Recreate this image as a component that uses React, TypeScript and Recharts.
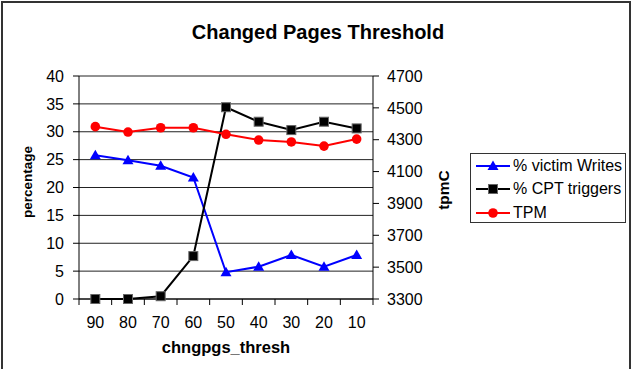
import React from 'react';
import { ComposedChart, Line, XAxis, YAxis, CartesianGrid, Legend, Label } from 'recharts';

const categories = ['90', '80', '70', '60', '50', '40', '30', '20', '10'];
const victimWrites = [25.8, 24.9, 23.9, 21.8, 4.8, 5.8, 7.9, 5.8, 7.9];
const cptTriggers = [0, 0, 0.5, 7.7, 34.4, 31.8, 30.3, 31.8, 30.6];
const tpmValues = [4382, 4348, 4375, 4375, 4334, 4298, 4286, 4260, 4304];
const leftTicks = [0, 5, 10, 15, 20, 25, 30, 35, 40];
const rightTicks = [3300, 3500, 3700, 3900, 4100, 4300, 4500, 4700];
const seriesNames = ['% victim Writes', '% CPT triggers', 'TPM'];

const data = categories.map((c, i) => ({
  cat: c,
  victim: victimWrites[i],
  cpt: cptTriggers[i],
  tpm: tpmValues[i],
}));

const FONT = '"Liberation Sans", Arial, Helvetica, sans-serif';
const BLUE = '#0000FF';
const RED = '#FF0000';
const BLACK = '#000000';
const X_TICK_MARGIN = 18;

const Triangle = ({ cx, cy }: any) => (
  <polygon points={`${cx},${cy - 5.5} ${cx + 5.5},${cy + 4} ${cx - 5.5},${cy + 4}`} fill={BLUE} />
);
const Square = ({ cx, cy }: any) => (
  <rect x={cx - 4.5} y={cy - 4.5} width={9} height={9} fill={BLACK} stroke="#666" strokeWidth={1} />
);
const Circle = ({ cx, cy }: any) => <circle cx={cx} cy={cy} r={4.8} fill={RED} />;

const XTick = (props: any) => {
  const { x, y, payload, index, visibleTicksCount, width } = props;
  const half =
    width && visibleTicksCount
      ? width / visibleTicksCount / 2
      : payload && payload.offset
      ? payload.offset
      : 16.33;
  const axisY = y - X_TICK_MARGIN;
  return (
    <g>
      <line x1={x - half} x2={x - half} y1={axisY} y2={axisY + 6} stroke={BLACK} />
      {index === visibleTicksCount - 1 && (
        <line x1={x + half} x2={x + half} y1={axisY} y2={axisY + 6} stroke={BLACK} />
      )}
      <text x={x} y={y} dy="0.71em" textAnchor="middle" fontSize={16} fill={BLACK} fontFamily={FONT}>
        {payload.value}
      </text>
    </g>
  );
};

const legendItems = [
  { name: seriesNames[0], color: BLUE, Marker: Triangle },
  { name: seriesNames[1], color: BLACK, Marker: Square },
  { name: seriesNames[2], color: RED, Marker: Circle },
];

const LegendBox = () => (
  <div
    style={{
      width: 156,
      height: 70,
      boxSizing: 'border-box',
      border: '1px solid #333',
      background: '#fff',
      position: 'relative',
      fontFamily: FONT,
      fontSize: 16,
      color: BLACK,
    }}
  >
    {legendItems.map((it, i) => (
      <div
        key={it.name}
        style={{
          position: 'absolute',
          left: 0,
          top: 12 + i * 23.3 - 11,
          height: 22,
          display: 'flex',
          alignItems: 'center',
          whiteSpace: 'nowrap',
        }}
      >
        <svg width={34} height={14} style={{ marginLeft: 5, display: 'block' }}>
          <line x1={0} x2={34} y1={7} y2={7} stroke={it.color} strokeWidth={2} />
          <it.Marker cx={17} cy={7} />
        </svg>
        <span style={{ marginLeft: 3, lineHeight: '22px' }}>{it.name}</span>
      </div>
    ))}
  </div>
);

export default function App() {
  return (
    <div style={{ position: 'absolute', left: 0, top: 0, width: 636, height: 369, background: '#fff', overflow: 'hidden' }}>
      <div
        style={{
          position: 'absolute',
          left: 1,
          top: 1,
          width: 626,
          height: 372,
          border: '2px solid #333',
        }}
      />
      <div
        style={{
          position: 'absolute',
          left: 0,
          top: 22,
          width: 636,
          textAlign: 'center',
          fontFamily: FONT,
          fontWeight: 'bold',
          fontSize: 20,
          lineHeight: '20px',
          color: BLACK,
        }}
      >
        Changed Pages Threshold
      </div>
      <ComposedChart
        width={636}
        height={369}
        data={data}
        margin={{ top: 76, right: 203, bottom: 0, left: 0 }}
        style={{ position: 'absolute', left: 0, top: 0 }}
      >
        <CartesianGrid yAxisId="left" vertical={false} stroke="#222" strokeWidth={1} />
        <XAxis
          dataKey="cat"
          scale="band"
          height={70}
          interval={0}
          tickLine={false}
          tickSize={0}
          tickMargin={X_TICK_MARGIN}
          axisLine={{ stroke: BLACK }}
          tick={<XTick />}
        >
          <Label
            content={() => (
              <text x={226} y={353} textAnchor="middle" fontFamily={FONT} fontWeight="bold" fontSize={16.5} fill={BLACK}>
                chngpgs_thresh
              </text>
            )}
          />
        </XAxis>
        <YAxis
          yAxisId="left"
          width={79}
          domain={[0, 40]}
          ticks={leftTicks}
          interval={0}
          tickSize={6}
          tickMargin={9}
          axisLine={{ stroke: BLACK }}
          tickLine={{ stroke: BLACK }}
          tick={{ fill: BLACK, fontSize: 16, fontFamily: FONT }}
        >
          <Label
            content={() => (
              <text
                transform="translate(27,182) rotate(-90)"
                textAnchor="middle"
                dominantBaseline="central"
                fontFamily={FONT}
                fontWeight="bold"
                fontSize={13.5}
                fill={BLACK}
              >
                percentage
              </text>
            )}
          />
        </YAxis>
        <YAxis
          yAxisId="right"
          orientation="right"
          width={60}
          domain={[3300, 4700]}
          ticks={rightTicks}
          interval={0}
          tickSize={6}
          tickMargin={8}
          axisLine={{ stroke: BLACK }}
          tickLine={{ stroke: BLACK }}
          tick={{ fill: BLACK, fontSize: 16, fontFamily: FONT }}
        >
          <Label
            content={() => (
              <text
                transform="translate(443,190) rotate(-90)"
                textAnchor="middle"
                dominantBaseline="central"
                fontFamily={FONT}
                fontWeight="bold"
                fontSize={15.5}
                fill={BLACK}
              >
                tpmC
              </text>
            )}
          />
        </YAxis>
        <Legend
          layout="vertical"
          align="center"
          verticalAlign="middle"
          wrapperStyle={{ position: 'absolute', left: 470, top: 153, width: 156, height: 70 }}
          content={() => <LegendBox />}
        />
        <Line
          yAxisId="left"
          dataKey="victim"
          name={seriesNames[0]}
          stroke={BLUE}
          strokeWidth={2}
          isAnimationActive={false}
          dot={(p: any) => <Triangle key={`v${p.index}`} cx={p.cx} cy={p.cy} />}
          activeDot={false}
        />
        <Line
          yAxisId="left"
          dataKey="cpt"
          name={seriesNames[1]}
          stroke={BLACK}
          strokeWidth={2}
          isAnimationActive={false}
          dot={(p: any) => <Square key={`c${p.index}`} cx={p.cx} cy={p.cy} />}
          activeDot={false}
        />
        <Line
          yAxisId="right"
          dataKey="tpm"
          name={seriesNames[2]}
          stroke={RED}
          strokeWidth={2}
          isAnimationActive={false}
          dot={(p: any) => <Circle key={`t${p.index}`} cx={p.cx} cy={p.cy} />}
          activeDot={false}
        />
      </ComposedChart>
    </div>
  );
}
